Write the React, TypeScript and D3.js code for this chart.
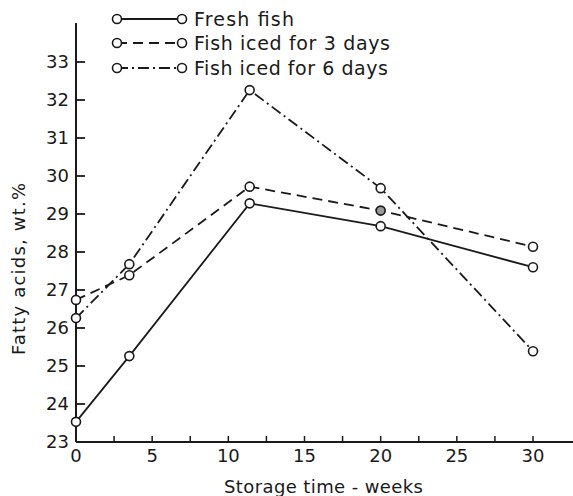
import React, { useEffect, useRef } from "react";
import * as d3 from "d3";

const weeks = [0, 3.5, 11.4, 20, 30];
const freshFish = [23.53, 25.26, 29.28, 28.68, 27.6];
const iced3Days = [26.74, 27.39, 29.72, 29.09, 28.14];
const iced6Days = [26.26, 27.68, 32.26, 29.68, 25.39];
const seriesNames = ["Fresh fish", "Fish iced for 3 days", "Fish iced for 6 days"];
const xTickLabels = [0, 5, 10, 15, 20, 25, 30];
const xMinorTicks = [2.5, 5, 7.5, 10, 12.5, 15, 17.5, 20, 22.5, 25, 27.5, 30];
const yTickLabels = [23, 24, 25, 26, 27, 28, 29, 30, 31, 32, 33];

const W = 573;
const H = 496;
const FONT = "'DejaVu Sans', sans-serif";

export default function App() {
  const ref = useRef<SVGSVGElement>(null);
  useEffect(() => {
    const svg = d3.select(ref.current);
    svg.selectAll("*").remove();
    const x = d3.scaleLinear().domain([0, 30]).range([76, 533]);
    const y = d3.scaleLinear().domain([23, 33]).range([442, 62]);
    const ink = "#1a1a1a";

    // axes
    svg.append("line").attr("x1", x(0)).attr("x2", x(0)).attr("y1", 23).attr("y2", y(23))
      .attr("stroke", ink).attr("stroke-width", 2);
    svg.append("line").attr("x1", x(0)).attr("x2", W).attr("y1", y(23)).attr("y2", y(23))
      .attr("stroke", ink).attr("stroke-width", 2);

    // y ticks
    const yg = svg.append("g");
    yTickLabels.forEach((v) => {
      if (v > 23) {
        yg.append("line").attr("x1", x(0)).attr("x2", x(0) + 9).attr("y1", y(v)).attr("y2", y(v))
          .attr("stroke", ink).attr("stroke-width", 1.8);
      }
      yg.append("text").attr("x", x(0) - 7).attr("y", y(v)).attr("dy", "0.36em")
        .attr("text-anchor", "end").attr("font-family", FONT).attr("font-size", 18)
        .attr("fill", ink).text(String(v));
    });

    // x ticks
    xMinorTicks.forEach((v) => {
      svg.append("line").attr("x1", x(v)).attr("x2", x(v)).attr("y1", y(23)).attr("y2", y(23) - 6)
        .attr("stroke", ink).attr("stroke-width", 1.5);
    });
    xTickLabels.forEach((v) => {
      svg.append("text").attr("x", x(v)).attr("y", 462).attr("text-anchor", "middle")
        .attr("font-family", FONT).attr("font-size", 18).attr("fill", ink).text(String(v));
    });

    // axis titles
    svg.append("text").attr("x", 224).attr("y", 493)
      .attr("textLength", 199).attr("lengthAdjust", "spacing")
      .attr("font-family", FONT).attr("font-size", 18).attr("fill", ink).text("Storage time - weeks");
    svg.append("text").attr("transform", `translate(25,355) rotate(-90)`)
      .attr("textLength", 172).attr("lengthAdjust", "spacing")
      .attr("font-family", FONT).attr("font-size", 18).attr("fill", ink).text("Fatty acids, wt.%");

    const styles = [
      { data: freshFish, dash: null as string | null },
      { data: iced3Days, dash: "10,6" },
      { data: iced6Days, dash: "11,4,2,4" },
    ];
    const line = d3.line<number>().x((_, i) => x(weeks[i])).y((d) => y(d));

    styles.forEach((s) => {
      svg.append("path").attr("d", line(s.data)).attr("fill", "none").attr("stroke", ink)
        .attr("stroke-width", 1.8).attr("stroke-dasharray", s.dash);
    });
    styles.forEach((s, si) => {
      s.data.forEach((d, i) => {
        svg.append("circle").attr("cx", x(weeks[i])).attr("cy", y(d)).attr("r", 4.5)
          .attr("fill", si === 1 && i === 3 ? "#999" : "white").attr("stroke", ink).attr("stroke-width", 1.6);
      });
    });

    // legend
    const legendY = [19, 43, 68];
    const legendLen = [100, 196, 194];
    styles.forEach((s, i) => {
      const ly = legendY[i];
      svg.append("line").attr("x1", 117).attr("x2", 182).attr("y1", ly).attr("y2", ly)
        .attr("stroke", ink).attr("stroke-width", 1.8).attr("stroke-dasharray", s.dash);
      [117, 182].forEach((cx) => {
        svg.append("circle").attr("cx", cx).attr("cy", ly).attr("r", 4.5)
          .attr("fill", "white").attr("stroke", ink).attr("stroke-width", 1.6);
      });
      svg.append("text").attr("x", 194).attr("y", ly).attr("dy", "0.36em")
        .attr("textLength", legendLen[i]).attr("lengthAdjust", "spacing")
        .attr("font-family", FONT).attr("font-size", 19).attr("fill", ink).text(seriesNames[i]);
    });
  }, []);

  return (
    <svg ref={ref} width={W} height={H} style={{ position: "absolute", left: 0, top: 0, background: "white" }} />
  );
}
